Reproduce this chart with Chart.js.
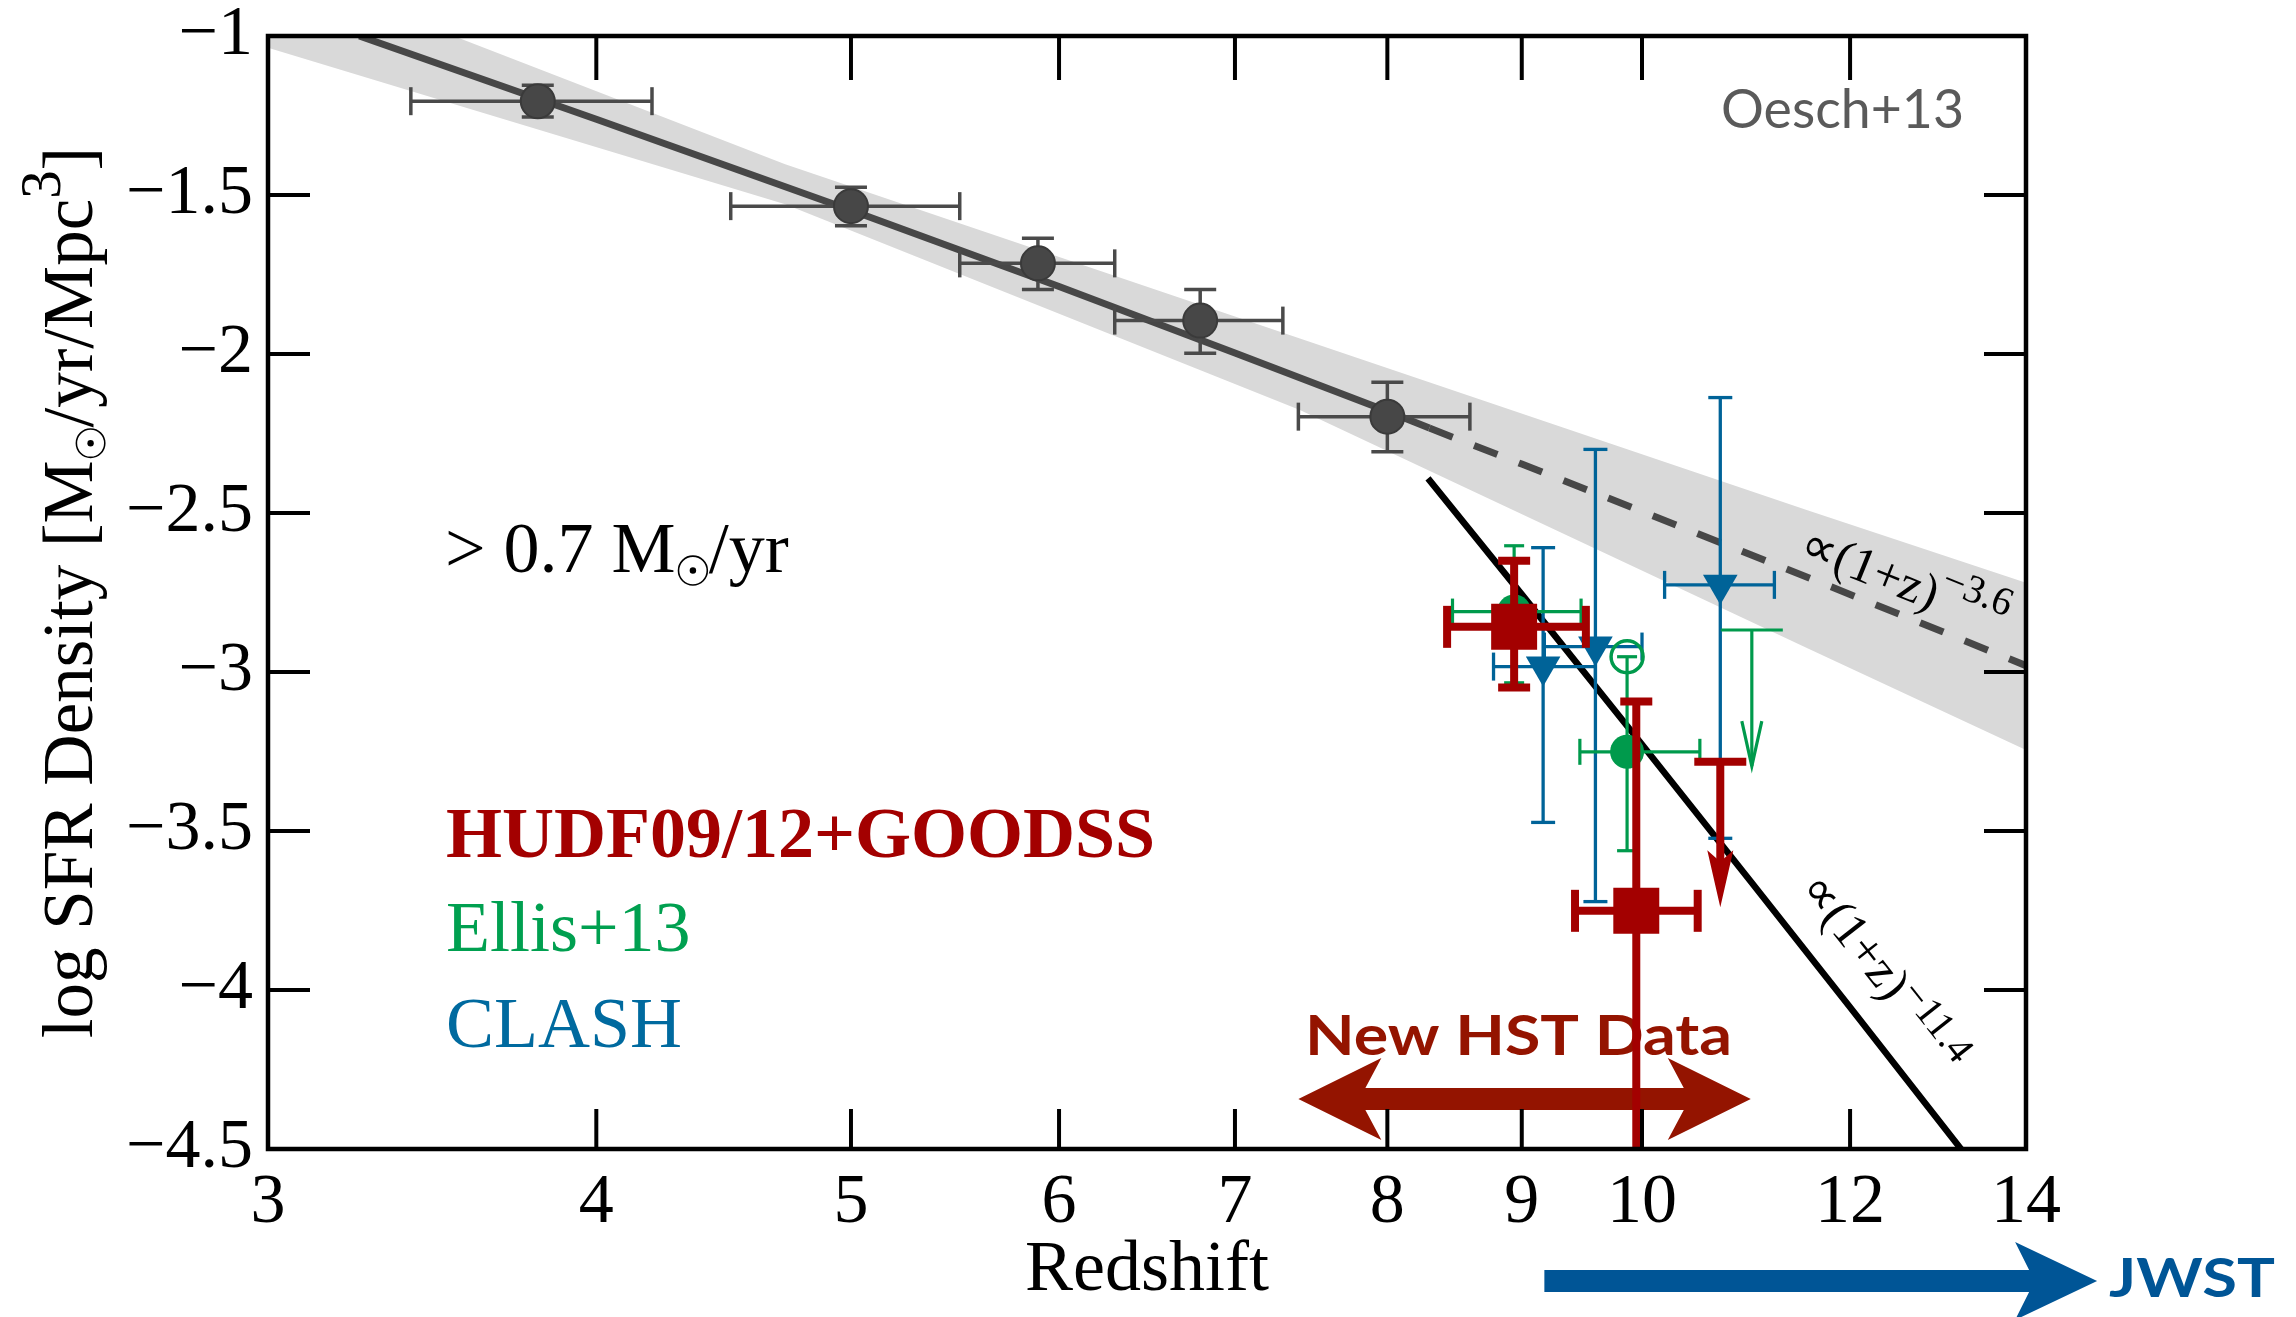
<!DOCTYPE html>
<html>
<head>
<meta charset="utf-8">
<script src="https://cdn.jsdelivr.net/npm/chart.js@4.4.1/dist/chart.umd.min.js"></script>
<style>
  html, body { margin: 0; padding: 0; background: #fff; }
  canvas { display: block; }
</style>
</head>
<body>
<canvas id="sfrd" width="2296" height="1317"></canvas>
<script>
/* globals Chart:false */

(() => {
  'use strict'

  // axis ticks
  const zTicks = [3, 4, 5, 6, 7, 8, 9, 10, 12, 14]
  const yTicks = [-1, -1.5, -2, -2.5, -3, -3.5, -4, -4.5]

  // Oesch+13 fit, its extrapolation and the grey uncertainty band
  const bandZ = [3, 3.53, 4.72, 7.41, 11.56, 14]
  const bandHi = [-0.77, -1.0, -1.403, -1.951, -2.491, -2.719]
  const bandLo = [-1.037, -1.214, -1.529, -2.176, -2.925, -3.245]
  const fitZ = [3.25, 4, 5, 6, 7, 8, 8.3]
  const fitY = [-1.0, -1.262, -1.548, -1.788, -1.997, -2.18, -2.233]
  const extZ = [8.3, 9, 10, 11, 12, 13, 14]
  const extY = [-2.233, -2.346, -2.495, -2.631, -2.756, -2.872, -2.98]
  // steep (1+z)^-11.4 line
  const steepZ = [8.29, 9, 10, 11, 12, 13.3]
  const steepY = [-2.391, -2.756, -3.228, -3.659, -4.054, -4.526]

  // Oesch+13 points
  const oeschZ = [3.8, 5.0, 5.89, 6.79, 8.0]
  const oeschY = [-1.205, -1.535, -1.715, -1.895, -2.197]
  const oeschZlo = [3.40, 4.50, 5.50, 6.30, 7.40]
  const oeschZhi = [4.20, 5.50, 6.30, 7.30, 8.60]
  const oeschYlo = [-1.255, -1.597, -1.797, -1.998, -2.307]
  const oeschYhi = [-1.155, -1.476, -1.636, -1.797, -2.089]

  // HUDF09/12+GOODSS
  const hudfZ = [8.94, 9.95]
  const hudfY = [-2.858, -3.751]
  const hudfZlo = [8.43, 9.43]
  const hudfZhi = [9.52, 10.5]
  const hudfYlo = [-3.049, -5.0]
  const hudfYhi = [-2.650, -3.093]
  const hudfLimZ = [10.71]
  const hudfLimY = [-3.282]
  const hudfLimTip = [-3.74]

  // Ellis+13
  const ellisZ = [8.94, 9.87]
  const ellisY = [-2.810, -3.251]
  const ellisZlo = [8.47, 9.47]
  const ellisZhi = [9.48, 10.52]
  const ellisYlo = [-3.034, -3.562]
  const ellisYhi = [-2.603, -2.952]
  const ellisOpenZ = [9.87]
  const ellisOpenY = [-2.952]
  const ellisLimZ = [11.01]
  const ellisLimY = [-2.868]
  const ellisLimTip = [-3.296]

  // CLASH
  const clashZ = [9.17, 9.60, 10.71]
  const clashY = [-2.983, -2.920, -2.726]
  const clashZlo = [8.78, 9.18, 10.2]
  const clashZhi = [9.6, 10.0, 11.23]
  const clashYlo = [-3.473, -3.722, -3.523]
  const clashYhi = [-2.609, -2.300, -2.137]

  // arrows below the data (z range of the tips, y level)
  const hstArrowZ = [7.40, 11.0]
  const hstArrowY = -4.343
  const jwstArrowZ = [9.18, 14.9]
  const jwstArrowY = -4.915

  const serif = '"Liberation Serif", "Times New Roman", serif'
  const sans = 'Lato, "Open Sans", sans-serif'
  const RED = '#a30000'
  const GREEN = '#009a4c'
  const BLUE = '#006398'
  const GREY = '#474747'

  const pts = (zs, ys) => zs.map((z, i) => ({x: z, y: ys[i]}))
  const withErr = (zs, ys, zlo, zhi, ylo, yhi) => zs.map((z, i) => ({
    x: z, y: ys[i], xMin: zlo[i], xMax: zhi[i], yMin: ylo[i], yMax: yhi[i]
  }))
  const withTip = (zs, ys, tips) => zs.map((z, i) => ({x: z, y: ys[i], tip: tips[i]}))

  function seg (ctx, x0, y0, x1, y1) {
    ctx.beginPath()
    ctx.moveTo(x0, y0)
    ctx.lineTo(x1, y1)
    ctx.stroke()
  }

  function clipArea (chart) {
    const a = chart.chartArea
    chart.ctx.beginPath()
    chart.ctx.rect(a.left, a.top, a.right - a.left, a.bottom - a.top)
    chart.ctx.clip()
  }

  // text with a subscript sun symbol and superscripts
  function drawRich (ctx, parts, x, y, size, opt) {
    const weight = opt.weight || 'normal'
    const family = opt.family || serif
    const supScale = opt.supScale || 0.7
    const supRise = opt.supRise || 0.42
    const measure = p => {
      if (typeof p === 'string') {
        ctx.font = `${weight} ${size}px ${family}`
        return ctx.measureText(p).width
      }
      if (p.sun) return size * 0.46
      ctx.font = `${weight} ${size * supScale}px ${family}`
      return ctx.measureText(p.sup).width
    }
    const total = parts.reduce((w, p) => w + measure(p), 0)
    let cx = opt.align === 'center' ? x - total / 2 : x
    ctx.fillStyle = opt.color
    ctx.strokeStyle = opt.color
    ctx.textAlign = 'left'
    ctx.textBaseline = 'alphabetic'
    parts.forEach(p => {
      const w = measure(p)
      if (typeof p === 'string') {
        ctx.fillText(p, cx, y)
      } else if (p.sun) {
        ctx.lineWidth = size * 0.022
        ctx.beginPath()
        ctx.arc(cx + size * 0.24, y - size * 0.02, size * 0.2, 0, Math.PI * 2)
        ctx.stroke()
        ctx.beginPath()
        ctx.arc(cx + size * 0.24, y - size * 0.02, size * 0.045, 0, Math.PI * 2)
        ctx.fill()
      } else {
        ctx.fillText(p.sup, cx, y - size * supRise)
      }
      cx += w
    })
  }

  function fitText (ctx, text, x, y, width, font, color) {
    ctx.save()
    ctx.font = font
    ctx.fillStyle = color
    ctx.textAlign = 'left'
    ctx.textBaseline = 'alphabetic'
    const k = width / ctx.measureText(text).width
    ctx.translate(x, y)
    ctx.scale(k, 1)
    ctx.fillText(text, 0, 0)
    ctx.restore()
  }

  function blockArrow (ctx, x0, x1, yc, half, headLen, headHalf, notch, twoHeads) {
    ctx.beginPath()
    if (twoHeads) {
      ctx.moveTo(x0, yc)
      ctx.lineTo(x0 + headLen, yc - headHalf)
      ctx.lineTo(x0 + notch, yc - half)
    } else {
      ctx.moveTo(x0, yc - half)
    }
    ctx.lineTo(x1 - notch, yc - half)
    ctx.lineTo(x1 - headLen, yc - headHalf)
    ctx.lineTo(x1, yc)
    ctx.lineTo(x1 - headLen, yc + headHalf)
    ctx.lineTo(x1 - notch, yc + half)
    if (twoHeads) {
      ctx.lineTo(x0 + notch, yc + half)
      ctx.lineTo(x0 + headLen, yc + headHalf)
    } else {
      ctx.lineTo(x0, yc + half)
    }
    ctx.closePath()
    ctx.fill()
  }

  // error bars under the markers of a dataset
  const errorBars = {
    id: 'errorBars',
    beforeDatasetDraw (chart, args) {
      const ds = chart.data.datasets[args.index]
      if (!ds.errStyle) return
      const {ctx, scales: {x, y}} = chart
      const s = ds.errStyle
      ctx.save()
      clipArea(chart)
      ctx.strokeStyle = s.color
      ctx.lineWidth = s.width
      ds.data.forEach(p => {
        const px = x.getPixelForValue(p.x)
        const py = y.getPixelForValue(p.y)
        const xl = x.getPixelForValue(p.xMin)
        const xr = x.getPixelForValue(p.xMax)
        const yb = y.getPixelForValue(p.yMin)
        const yt = y.getPixelForValue(p.yMax)
        seg(ctx, xl, py, xr, py)
        seg(ctx, px, yt, px, yb)
        seg(ctx, xl, py - s.capX, xl, py + s.capX)
        seg(ctx, xr, py - s.capX, xr, py + s.capX)
        seg(ctx, px - s.capY, yt, px + s.capY, yt)
        seg(ctx, px - s.capY, yb, px + s.capY, yb)
      })
      ctx.restore()
    }
  }

  // upper limits: cap plus downward arrow
  const upperLimits = {
    id: 'upperLimits',
    afterDatasetDraw (chart, args) {
      const ds = chart.data.datasets[args.index]
      if (!ds.limitStyle) return
      const {ctx, scales: {x, y}} = chart
      const s = ds.limitStyle
      ctx.save()
      ctx.strokeStyle = s.color
      ctx.fillStyle = s.color
      ctx.lineWidth = s.width
      ds.data.forEach(p => {
        const px = x.getPixelForValue(p.x)
        const py = y.getPixelForValue(p.y)
        const tip = y.getPixelForValue(p.tip)
        seg(ctx, px - s.cap, py, px + s.cap, py)
        if (s.open) {
          seg(ctx, px, py, px, tip)
          ctx.beginPath()
          ctx.moveTo(px - s.half, tip - s.head)
          ctx.lineTo(px, tip)
          ctx.lineTo(px + s.half, tip - s.head)
          ctx.stroke()
        } else {
          seg(ctx, px, py, px, tip - s.head * 0.7)
          ctx.beginPath()
          ctx.moveTo(px, tip)
          ctx.lineTo(px - s.half, tip - s.head)
          ctx.lineTo(px, tip - s.head * 0.8)
          ctx.lineTo(px + s.half, tip - s.head)
          ctx.closePath()
          ctx.fill()
        }
      })
      ctx.restore()
    }
  }

  // inward ticks on all four sides and the frame
  const frameAndTicks = {
    id: 'frameAndTicks',
    afterDatasetsDraw (chart) {
      const {ctx, chartArea: a, scales: {x, y}} = chart
      ctx.save()
      ctx.strokeStyle = '#000'
      ctx.lineWidth = 4
      zTicks.forEach(v => {
        const px = x.getPixelForValue(v)
        seg(ctx, px, a.bottom, px, a.bottom - 40)
        seg(ctx, px, a.top, px, a.top + 44)
      })
      yTicks.forEach(v => {
        const py = y.getPixelForValue(v)
        seg(ctx, a.left, py, a.left + 42, py)
        seg(ctx, a.right, py, a.right - 42, py)
      })
      ctx.lineWidth = 4.5
      ctx.strokeRect(a.left, a.top, a.right - a.left, a.bottom - a.top)
      ctx.restore()
    }
  }

  // HST arrow and its label sit under the data
  const hstNote = {
    id: 'hstNote',
    beforeDatasetsDraw (chart) {
      const {ctx, scales: {x, y}} = chart
      ctx.save()
      ctx.fillStyle = '#941400'
      blockArrow(ctx, x.getPixelForValue(hstArrowZ[0]), x.getPixelForValue(hstArrowZ[1]),
        y.getPixelForValue(hstArrowY), 11, 83, 41, 67, true)
      fitText(ctx, 'New HST Data', 1305, 1055, 427, `bold 56px ${sans}`, '#941400')
      ctx.restore()
    }
  }

  const notes = {
    id: 'notes',
    afterDraw (chart) {
      const {ctx, scales: {x, y}} = chart
      ctx.save()

      // y axis title
      ctx.save()
      ctx.translate(92, (chart.chartArea.top + chart.chartArea.bottom) / 2)
      ctx.rotate(-Math.PI / 2)
      drawRich(ctx, ['log SFR Density [M', {sun: true}, '/yr/Mpc', {sup: '3'}, ']'], 0, 0, 71,
        {color: '#000', align: 'center', supScale: 0.8, supRise: 0.45})
      ctx.restore()

      drawRich(ctx, ['> 0.7 M', {sun: true}, '/yr'], 445, 572, 72, {color: '#000'})

      ctx.font = `bold 72px ${serif}`
      ctx.fillStyle = RED
      ctx.textAlign = 'left'
      ctx.textBaseline = 'alphabetic'
      ctx.fillText('HUDF09/12+GOODSS', 446, 857)
      ctx.font = `72px ${serif}`
      ctx.fillStyle = '#00a050'
      ctx.fillText('Ellis+13', 446, 951)
      ctx.fillStyle = '#006a9f'
      ctx.fillText('CLASH', 446, 1047)

      fitText(ctx, 'Oesch+13', 1721, 128, 243, `54px ${sans}`, '#5a5a5a')

      // slope labels along the lines
      const ang = (zs, ys) => {
        const n = zs.length
        return Math.atan2(y.getPixelForValue(ys[n - 1]) - y.getPixelForValue(ys[n - 3]),
          x.getPixelForValue(zs[n - 1]) - x.getPixelForValue(zs[n - 3]))
      }
      ctx.save()
      ctx.translate(1797, 556)
      ctx.rotate(ang(extZ, extY))
      drawRich(ctx, ['\u221d(1+z)', {sup: '\u22123.6'}], 0, 0, 50, {color: '#000', supScale: 0.8, supRise: 0.45})
      ctx.restore()
      ctx.save()
      ctx.translate(1798, 889)
      ctx.rotate(ang(steepZ, steepY))
      drawRich(ctx, ['\u221d(1+z)', {sup: '\u221211.4'}], 0, 0, 50, {color: '#000', supScale: 0.8, supRise: 0.3})
      ctx.restore()

      // JWST arrow below the axis
      ctx.fillStyle = '#005596'
      blockArrow(ctx, x.getPixelForValue(jwstArrowZ[0]), x.getPixelForValue(jwstArrowZ[1]),
        y.getPixelForValue(jwstArrowY), 11, 82, 39, 68, false)
      fitText(ctx, 'JWST', 2109, 1297, 166, `bold 54px ${sans}`, '#005596')

      ctx.restore()
    }
  }

  const sfrd = document.getElementById('sfrd')
  // eslint-disable-next-line no-unused-vars
  const sfrdChart = new Chart(sfrd, {
    type: 'line',
    data: {
      datasets: [{
        data: pts(bandZ, bandHi),
        borderWidth: 0,
        pointRadius: 0,
        backgroundColor: '#d9d9d9',
        fill: '+1',
        order: 20
      }, {
        data: pts(bandZ, bandLo),
        borderWidth: 0,
        pointRadius: 0,
        fill: false,
        order: 20
      }, {
        data: pts(fitZ, fitY),
        borderColor: GREY,
        borderWidth: 7,
        pointRadius: 0,
        order: 19
      }, {
        data: pts(extZ, extY),
        borderColor: GREY,
        borderWidth: 7,
        borderDash: [25, 23],
        pointRadius: 0,
        order: 19
      }, {
        data: pts(steepZ, steepY),
        borderColor: '#000',
        borderWidth: 6.5,
        pointRadius: 0,
        order: 18
      }, {
        data: withErr(oeschZ, oeschY, oeschZlo, oeschZhi, oeschYlo, oeschYhi),
        showLine: false,
        pointStyle: 'circle',
        pointRadius: 17,
        pointBackgroundColor: GREY,
        pointBorderColor: '#3a3a3a',
        pointBorderWidth: 2,
        errStyle: {color: '#4a4a4a', width: 3.5, capX: 14, capY: 16},
        order: 17
      }, {
        data: withErr(clashZ, clashY, clashZlo, clashZhi, clashYlo, clashYhi),
        showLine: false,
        pointStyle: 'triangle',
        pointRotation: 180,
        pointRadius: 20,
        pointBackgroundColor: BLUE,
        pointBorderWidth: 0,
        errStyle: {color: BLUE, width: 3.3, capX: 14, capY: 12},
        order: 16
      }, {
        data: pts(ellisOpenZ, ellisOpenY),
        showLine: false,
        pointStyle: 'circle',
        pointRadius: 16,
        pointBackgroundColor: 'rgba(0,0,0,0)',
        pointBorderColor: GREEN,
        pointBorderWidth: 3.5,
        order: 15
      }, {
        data: withErr(ellisZ, ellisY, ellisZlo, ellisZhi, ellisYlo, ellisYhi),
        showLine: false,
        pointStyle: 'circle',
        pointRadius: 17,
        pointBackgroundColor: GREEN,
        pointBorderWidth: 0,
        errStyle: {color: GREEN, width: 3.2, capX: 13, capY: 10},
        order: 15
      }, {
        data: withTip(ellisLimZ, ellisLimY, ellisLimTip),
        showLine: false,
        pointRadius: 0,
        limitStyle: {color: GREEN, width: 3.2, cap: 31, open: true, head: 45, half: 10},
        order: 15
      }, {
        data: withErr(hudfZ, hudfY, hudfZlo, hudfZhi, hudfYlo, hudfYhi),
        showLine: false,
        pointStyle: 'rect',
        pointRadius: 32.5,
        pointBackgroundColor: RED,
        pointBorderWidth: 0,
        errStyle: {color: RED, width: 8, capX: 21, capY: 16},
        order: 14
      }, {
        data: withTip(hudfLimZ, hudfLimY, hudfLimTip),
        showLine: false,
        pointRadius: 0,
        limitStyle: {color: RED, width: 8, cap: 26, open: false, head: 57, half: 13},
        order: 14
      }]
    },
    options: {
      responsive: false,
      devicePixelRatio: 1,
      animation: false,
      events: [],
      layout: {
        padding: {top: 36, right: 270, bottom: 0, left: 0}
      },
      plugins: {
        legend: {display: false},
        tooltip: {enabled: false}
      },
      scales: {
        x: {
          type: 'logarithmic',
          min: 3,
          max: 14,
          afterBuildTicks: scale => { scale.ticks = zTicks.map(v => ({value: v})) },
          afterFit: scale => {
            scale.height = 168
            scale.paddingLeft = 0
            scale.paddingRight = 0
          },
          grid: {display: false, drawTicks: false},
          border: {display: false},
          ticks: {
            autoSkip: false,
            maxRotation: 0,
            minRotation: 0,
            padding: 20,
            color: '#000',
            font: {family: serif, size: 70, lineHeight: 1},
            callback: v => String(v)
          },
          title: {
            display: true,
            text: 'Redshift',
            color: '#000',
            font: {family: serif, size: 72, lineHeight: 1},
            padding: {top: 0, bottom: 10}
          }
        },
        y: {
          type: 'linear',
          min: -4.5,
          max: -1,
          afterBuildTicks: scale => { scale.ticks = yTicks.map(v => ({value: v})) },
          afterFit: scale => {
            scale.width = 268
            scale.paddingTop = 0
            scale.paddingBottom = 0
          },
          grid: {display: false, drawTicks: false},
          border: {display: false},
          ticks: {
            padding: 15,
            color: '#000',
            font: {family: serif, size: 70, lineHeight: 1},
            callback: v => String(v).replace('-', '\u2212')
          }
        }
      }
    },
    plugins: [hstNote, errorBars, upperLimits, frameAndTicks, notes]
  })
})()
</script>
</body>
</html>
